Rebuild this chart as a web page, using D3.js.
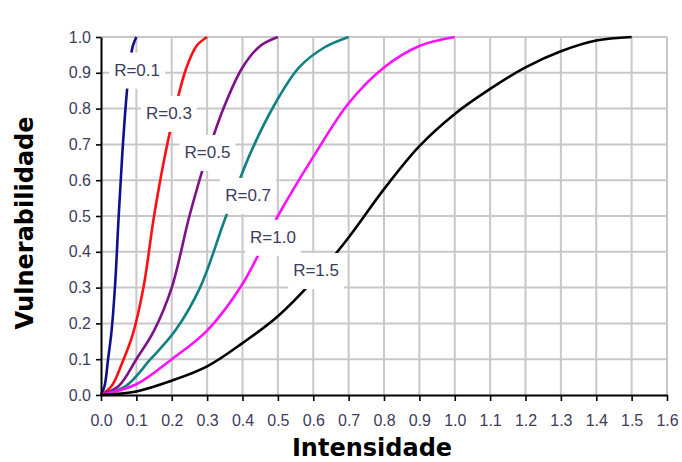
<!DOCTYPE html>
<html>
<head>
<meta charset="utf-8">
<script src="https://cdn.jsdelivr.net/npm/d3@7/dist/d3.min.js"></script>
<style>
  body { margin: 0; background: #fff; }
  svg { display: block; }
</style>
</head>
<body>
<script>
/* Curves: intensity (x) and vulnerability (y) for each R */
var seriesNames = ["R=0.1", "R=0.3", "R=0.5", "R=0.7", "R=1.0", "R=1.5"];
var seriesColors = ["#10108a", "#ff1010", "#80108a", "#108080", "#ff10ff", "#000000"];

var r01X = [0, 0.01, 0.02, 0.03, 0.04, 0.05, 0.06, 0.07, 0.08, 0.09, 0.1];
var r01Y = [0, 0.025, 0.1, 0.18, 0.31, 0.5, 0.67, 0.81, 0.915, 0.975, 1.0];

var r03X = [0, 0.03, 0.06, 0.09, 0.12, 0.15, 0.18, 0.21, 0.24, 0.27, 0.3];
var r03Y = [0, 0.025, 0.09, 0.17, 0.3, 0.5, 0.665, 0.8, 0.91, 0.975, 1.0];

var r05X = [0, 0.05, 0.1, 0.15, 0.2, 0.25, 0.3, 0.35, 0.4, 0.45, 0.5];
var r05Y = [0, 0.025, 0.1, 0.18, 0.3, 0.5, 0.67, 0.81, 0.915, 0.975, 1.0];

var r07X = [0, 0.07, 0.14, 0.21, 0.28, 0.35, 0.42, 0.49, 0.56, 0.63, 0.7];
var r07Y = [0, 0.025, 0.1, 0.18, 0.3, 0.49, 0.67, 0.81, 0.915, 0.97, 1.0];

var r10X = [0, 0.1, 0.2, 0.3, 0.4, 0.5, 0.6, 0.7, 0.8, 0.9, 1.0];
var r10Y = [0, 0.03, 0.1, 0.18, 0.31, 0.5, 0.665, 0.815, 0.915, 0.975, 1.0];

var r15X = [0, 0.1, 0.2, 0.3, 0.4, 0.5, 0.6, 0.7, 0.8, 0.9, 1.0, 1.1, 1.2, 1.3, 1.4, 1.5];
var r15Y = [0, 0.01, 0.04, 0.08, 0.145, 0.22, 0.32, 0.44, 0.575, 0.695, 0.785, 0.855, 0.915, 0.96, 0.99, 1.0];

var xTicks = d3.range(0, 17).map(function(i) { return i / 10; });
var yTicks = d3.range(0, 11).map(function(i) { return i / 10; });

/* Frame of the plot */
var margin = {top: 37, right: 15, bottom: 67, left: 101},
    width = 682 - margin.left - margin.right,
    height = 462 - margin.top - margin.bottom;

var svg = d3.select("body").append("svg")
    .attr("width", 682)
    .attr("height", 462);

var g = svg.append("g")
    .attr("transform", "translate(" + margin.left + "," + margin.top + ")");

var x = d3.scaleLinear().domain([0, 1.6]).range([0, width]),
    y = d3.scaleLinear().domain([0, 1.0]).range([height, 0]);

/* Grid */
g.append("g").selectAll("line")
    .data(xTicks.slice(1))
    .enter().append("line")
    .attr("x1", function(d) { return x(d); })
    .attr("x2", function(d) { return x(d); })
    .attr("y1", 0)
    .attr("y2", height)
    .attr("stroke", "#c8c8c8")
    .attr("stroke-width", 2);

g.append("g").selectAll("line")
    .data(yTicks.slice(1))
    .enter().append("line")
    .attr("x1", 0)
    .attr("x2", width)
    .attr("y1", function(d) { return y(d); })
    .attr("y2", function(d) { return y(d); })
    .attr("stroke", "#c8c8c8")
    .attr("stroke-width", 2);

/* Curves */
var allX = [r01X, r03X, r05X, r07X, r10X, r15X],
    allY = [r01Y, r03Y, r05Y, r07Y, r10Y, r15Y];

var series = seriesNames.map(function(name, i) {
    return {
        id: name,
        color: seriesColors[i],
        values: allX[i].map(function(v, j) { return {x: v, y: allY[i][j]}; })
    };
});

var line = d3.line()
    .curve(d3.curveCatmullRom.alpha(0.5))
    .x(function(d) { return x(d.x); })
    .y(function(d) { return y(d.y); });

g.append("g").selectAll("path")
    .data(series)
    .enter().append("path")
    .attr("fill", "none")
    .attr("stroke", function(d) { return d.color; })
    .attr("stroke-width", 2.6)
    .attr("stroke-linejoin", "round")
    .attr("d", function(d) { return line(d.values); });

/* Axes */
var yAxis = g.append("g")
    .call(d3.axisLeft(y).tickValues(yTicks).tickSize(5).tickSizeOuter(0)
        .tickPadding(5).tickFormat(d3.format(".1f")));

var xAxis = g.append("g")
    .attr("transform", "translate(0," + height + ")")
    .call(d3.axisBottom(x).tickValues(xTicks).tickSize(6).tickSizeOuter(0)
        .tickPadding(14).tickFormat(d3.format(".1f")));

[xAxis, yAxis].forEach(function(a) {
    a.select(".domain").attr("stroke", "#000").attr("stroke-width", 2);
    a.selectAll(".tick line").attr("stroke", "#000").attr("stroke-width", 1.6);
    a.selectAll(".tick text")
        .attr("fill", "#3c3c5c")
        .style("font", "16px 'Liberation Sans', Arial, sans-serif");
});

/* Curve labels on white boxes, placed in data units */
var labelAt = [[0.102, 0.909], [0.192, 0.788], [0.301, 0.679],
               [0.416, 0.559], [0.486, 0.442], [0.608, 0.349]];

var lab = g.append("g").selectAll("g")
    .data(series)
    .enter().append("g")
    .attr("transform", function(d, i) {
        return "translate(" + x(labelAt[i][0]) + "," + y(labelAt[i][1]) + ")";
    });

lab.append("rect")
    .attr("fill", "#fff");

lab.append("text")
    .attr("text-anchor", "middle")
    .attr("dy", "0.36em")
    .attr("fill", "#3c3c5c")
    .style("font", "17px 'Liberation Sans', Arial, sans-serif")
    .text(function(d) { return d.id; });

lab.each(function() {
    var grp = d3.select(this),
        w = grp.select("text").node().getBBox().width + 10;
    grp.select("rect")
        .attr("x", -w / 2)
        .attr("y", -17)
        .attr("width", w)
        .attr("height", 36);
});

/* Axis titles */
svg.append("text")
    .attr("x", 372)
    .attr("y", 456)
    .attr("text-anchor", "middle")
    .style("font", "bold 24px 'DejaVu Sans', sans-serif")
    .attr("fill", "#000")
    .text("Intensidade");

svg.append("text")
    .attr("transform", "translate(33,223) rotate(-90)")
    .attr("text-anchor", "middle")
    .style("font", "bold 24px 'DejaVu Sans', sans-serif")
    .attr("fill", "#000")
    .text("Vulnerabilidade");
</script>
</body>
</html>
